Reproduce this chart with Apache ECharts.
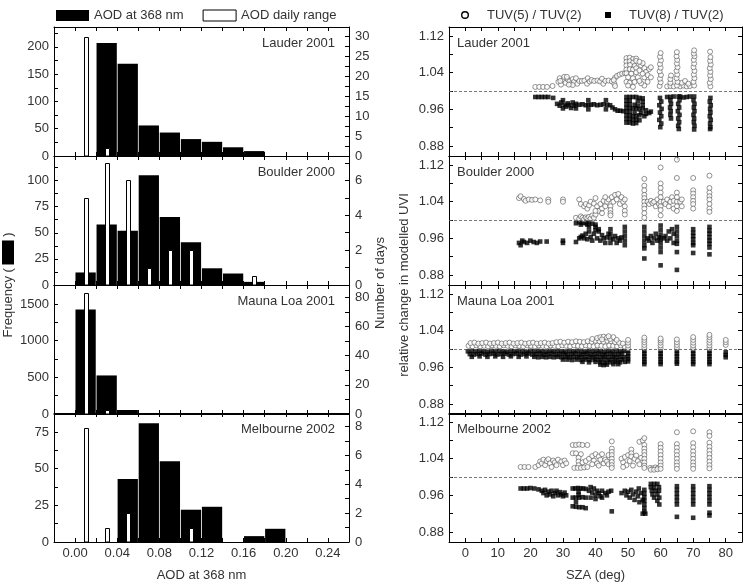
<!DOCTYPE html>
<html><head><meta charset="utf-8">
<script src="https://cdn.jsdelivr.net/npm/echarts@6/dist/echarts.min.js"></script>
<style>html,body{margin:0;padding:0;background:#fff}#c{width:752px;height:583px}</style>
</head><body><div id="c"></div>
<script>
// ---------------- DATA ----------------
const stations = ['Lauder 2001', 'Boulder 2000', 'Mauna Loa 2001', 'Melbourne 2002'];

// AOD histogram (black bars): bins of 0.02 starting at these values
const aodBinStart = [0.00, 0.02, 0.04, 0.06, 0.08, 0.10, 0.12, 0.14, 0.16, 0.18, 0.20];
const aodBinWidth = 0.02;
const lauderFreq  = [0, 207, 169, 56, 43, 31, 26, 16, 9, 0, 0];
const boulderFreq = [12, 58, 52, 105, 65, 41, 16, 11, 3, 0, 0];
const maunaFreq   = [1427, 526, 55, 0, 0, 0, 0, 0, 0, 0, 0];
const melbFreq    = [0, 0, 43, 81, 55, 22, 24, 0, 4, 9, 0];

// AOD daily range (white bars): number of days at bin centres
const rangeCentres = [0.01, 0.03, 0.05, 0.07, 0.09, 0.11, 0.13, 0.15, 0.17];
const lauderDays  = [30, 2, 0, 0, 0, 0, 0, 0, 0];
const boulderDays = [5, 7, 6, 1, 2, 2, 0, 0, 0.5];
const maunaDays   = [83, 3, 0, 0, 0, 0, 0, 0, 0];
const melbDays    = [7.9, 1, 2, 0, 0, 1, 0, 0, 0];

// axis extents and tick labels, left column
const aodMin = -0.02, aodMax = 0.26;
const aodLabels = [0.00, 0.04, 0.08, 0.12, 0.16, 0.20, 0.24];
const aodTicks = [0.00, 0.02, 0.04, 0.06, 0.08, 0.10, 0.12, 0.14, 0.16, 0.18, 0.20, 0.22, 0.24];
const freqMax = [236.5, 123.5, 1760, 87.9];
const freqLabels = [[0, 50, 100, 150, 200], [0, 25, 50, 75, 100], [0, 500, 1000, 1500], [0, 25, 50, 75]];
const freqTicks = [[0, 25, 50, 75, 100, 125, 150, 175, 200, 225], [0, 12.5, 25, 37.5, 50, 62.5, 75, 87.5, 100, 112.5],
                   [0, 250, 500, 750, 1000, 1250, 1500, 1750], [0, 12.5, 25, 37.5, 50, 62.5, 75, 87.5]];
const daysMax = [32.4, 7.4, 88.5, 8.94];
const daysLabels = [[0, 5, 10, 15, 20, 25, 30], [0, 2, 4, 6], [0, 20, 40, 60, 80], [0, 2, 4, 6, 8]];
const daysTicks = [[0, 2.5, 5, 7.5, 10, 12.5, 15, 17.5, 20, 22.5, 25, 27.5, 30], [0, 1, 2, 3, 4, 5, 6, 7],
                   [0, 10, 20, 30, 40, 50, 60, 70, 80], [0, 1, 2, 3, 4, 5, 6, 7, 8]];

// axis extents and tick labels, right column
const szaMin = -5, szaMax = 85;
const szaLabels = [0, 10, 20, 30, 40, 50, 60, 70, 80];
const szaTicks = [0, 5, 10, 15, 20, 25, 30, 35, 40, 45, 50, 55, 60, 65, 70, 75, 80];
const uviMin = 0.858, uviMax = 1.14;
const uviLabels = [0.88, 0.96, 1.04, 1.12];
const uviTicks = [0.88, 0.92, 0.96, 1.00, 1.04, 1.08, 1.12];
const uviRef = 1.00;

// TUV ratio scatter: [SZA, ratio]
const lauderTUV5 = [[21.5,1.009],[22.7,1.009],[23.9,1.009],[25.1,1.009],[26.8,1.011],
[28.6,1.02],[29,1.028],[29.4,1.014],[30,1.024],[30.4,1.031],[30.8,1.018],[31.4,1.026],[32,1.021],[32.4,1.015],[33,1.026],[33.4,1.02],[34,1.028],[34.4,1.016],[29.2,1.022],[31.2,1.031],[33,1.013],[35,1.022],[31.8,1.014],
[35.8,1.022],[36.6,1.023],[37.4,1.016],[37.6,1.028],[38.2,1.021],[38.8,1.024],[39.6,1.022],[40.6,1.023],[41.4,1.021],[42,1.027],[42.4,1.016],[43,1.022],[44,1.023],[45,1.021],[45.8,1.016],[46,1.011],[46,1.029],[45.6,1.024],
[46.6,1.033],[47.4,1.036],[48.2,1.038],[49,1.039],
[49.5,1.072],[50.5,1.073],[51.5,1.07],[52.5,1.071],[49.5,1.064],[50.5,1.065],[51.5,1.062],[52.5,1.066],[49.5,1.056],[50.6,1.057],[52,1.055],[49.5,1.047],[50.5,1.048],[51.5,1.047],[52.5,1.05],[49.5,1.039],[51,1.038],[52.5,1.041],[50,1.03],[51.5,1.028],[49.5,1.02],[50.5,1.018],[52,1.02],[50,1.012],[51.5,1.009],[53,1.03],[53.5,1.045],[54,1.056],[54.5,1.061],[55,1.05],[55.5,1.042],[55,1.03],[56,1.035],[56.5,1.048],[57,1.052],[56,1.02],[55,1.012],[54,1.017],[57,1.03],[53.5,1.064],[54.5,1.038],[53.5,1.022],
[59.7,1.011],[60,1.019],[59.8,1.027],[60.1,1.035],[59.7,1.043],[60,1.051],[59.8,1.059],[60.1,1.067],[59.8,1.075],[60,1.083],
[62,1.01],[63,1.011],[64,1.01],[66,1.01],[67,1.012],[68,1.01],[69,1.011],[66.5,1.018],[67.5,1.022],[68.5,1.016],[63,1.018],[63,1.026],[63.2,1.034],
[65,1.012],[65.2,1.02],[64.9,1.028],[65.1,1.036],[64.9,1.044],[65.2,1.052],[65,1.06],[65.1,1.068],[64.9,1.076],[65,1.085],
[70.3,1.012],[70.1,1.02],[70.4,1.028],[70.2,1.036],[70.4,1.044],[70.1,1.052],[70.3,1.06],[70.2,1.068],[70.4,1.076],[70.2,1.082],[70.3,1.089],
[75.3,1.01],[75.1,1.018],[75.4,1.026],[75.2,1.034],[75.3,1.042],[75.1,1.05],[75.4,1.058],[75.2,1.066],[75.3,1.074],[75.2,1.086]];
const lauderTUV8 = [[21.5,0.987],[22.5,0.987],[23.5,0.987],[24.5,0.987],[25.5,0.987],[27,0.985],
[28.2,0.972],[29,0.968],[29.5,0.975],[30,0.962],[30,0.98],[30.5,0.97],[31,0.966],[31.5,0.973],[32,0.969],[32.5,0.963],[33,0.975],[33.5,0.968],[34,0.972],[34,0.962],[35,0.97],[36,0.971],[37,0.969],[37.8,0.98],[37.8,0.96],[37.8,0.97],[38.6,0.97],[39.5,0.971],[40.5,0.969],[41.5,0.97],[42.5,0.971],[43.2,0.98],[43.2,0.96],[43.6,0.97],[44.5,0.969],[45.2,0.964],[46,0.96],[46.8,0.957],[47.6,0.957],[48.5,0.956],
[49.5,0.987],[50.5,0.987],[51.5,0.987],[52.5,0.987],[53.5,0.985],[54.5,0.984],[49.5,0.979],[50.5,0.979],[53,0.978],[54.5,0.977],[49.5,0.971],[50.5,0.971],[52,0.97],[53,0.968],[54.5,0.969],[49.5,0.963],[50.5,0.963],[51.5,0.962],[52.5,0.962],[53.5,0.96],[54.5,0.962],[55.5,0.958],[49.5,0.955],[50.5,0.955],[52,0.953],[54,0.952],[55.5,0.95],[56.5,0.952],[57,0.955],[49.5,0.947],[50.5,0.947],[51.5,0.945],[52.5,0.945],[53.5,0.947],[55,0.945],[49.5,0.939],[50.5,0.939],[51.5,0.937],[52.5,0.937],[53.5,0.936],[49.5,0.931],[50.5,0.931],[51.5,0.929],[52.5,0.93],
[59.8,0.985],[60.2,0.977],[59.6,0.969],[60.3,0.961],[59.8,0.953],[60.2,0.945],[59.6,0.937],[60.2,0.929],[59.9,0.921],
[62,0.987],[63,0.987],[64,0.988],[66,0.988],[67,0.986],[68,0.987],[69,0.988],
[63,0.98],[63.2,0.972],[62.9,0.964],[63.1,0.956],[63,0.948],[63.2,0.94],
[65.5,0.988],[65.8,0.98],[65.4,0.972],[65.7,0.964],[65.3,0.956],[65.8,0.948],[65.4,0.94],[65.7,0.932],[65.4,0.924],[65.6,0.917],
[70.3,0.988],[70.1,0.98],[70.4,0.972],[70.2,0.964],[70.4,0.956],[70.1,0.948],[70.3,0.94],[70.2,0.932],[70.4,0.924],[70.3,0.916],
[75.3,0.985],[75.1,0.977],[75.4,0.969],[75.2,0.961],[75.3,0.953],[75.1,0.945],[75.4,0.937],[75.2,0.929],[75.3,0.921],[75.2,0.917]];

const boulderTUV5 = [[16.5,1.048],[17,1.052],[18,1.046],[18.5,1.042],[19.5,1.045],[20.5,1.044],[21.5,1.045],[23,1.043],[25.5,1.045],[25.5,1.04],[30,1.045],[30,1.04],
[34,1.005],[35,1.003],[35.5,1.008],[36,1.005],[36.5,1.002],[37,1.006],[37.5,1.004],[38,1.007],[38.5,1.003],[39,1.01],[39.5,1.005],[40,1.012],[35,1.045],[35.5,1.035],[36.5,1.03],[37,1.035],[37.5,1.025],[38,1.032],[38.5,1.04],[39.5,1.036],[40,1.048],[40.5,1.03],[41,1.02],[41.5,1.035],[42,1.025],[42.5,1.042],[43,1.03],[43.5,1.04],[44,1.045],[44.6,1.03],[44.6,1.022],[44.6,1.015],[44.6,1.01],[45,1.05],[45.5,1.04],[46,1.055],[46.5,1.045],[47,1.057],[47.5,1.035],[48,1.05],[48.5,1.04],[49,1.02],[49,1.03],[49,1.012],[49,1.045],[42,1.015],[40,1.02],[43,1.05],
[55,1.09],[55,1.075],[55,1.065],[55,1.055],[55,1.048],[55,1.04],[55,1.032],[55,1.025],[55,1.015],[55,1.005],
[56,1.04],[56.5,1.035],[57,1.042],[57.5,1.037],[58,1.04],[58.5,1.03],[59,1.045],[59.5,1.035],
[60,1.115],[60,1.08],[60,1.07],[60,1.06],[60,1.05],[60,1.04],[60,1.03],[60,1.022],[60,1.01],
[61,1.04],[61.5,1.035],[62,1.045],[62.5,1.03],[63,1.04],[63.5,1.05],[64,1.025],[64,1.042],
[65,1.132],[65,1.092],[65,1.06],[65,1.05],[65,1.04],[65,1.03],[65,1.02],
[66,1.04],[66.5,1.045],[66.5,1.03],
[70,1.092],[70,1.065],[70,1.058],[70,1.05],[70,1.042],[70,1.035],[70,1.025],
[75,1.097],[75,1.07],[75,1.06],[75,1.052],[75,1.045],[75,1.035],[75,1.025],[75,1.018]];
const boulderTUV8 = [[16.5,0.95],[17,0.945],[17.5,0.955],[18,0.952],[19,0.95],[20,0.955],[21,0.952],[22,0.95],[23,0.953],[25,0.953],[30,0.955],[30,0.95],[34,0.952],
[34,0.993],[35,0.995],[35.5,0.99],[36,0.994],[37,0.993],[37.5,0.99],[38,0.995],[39,0.992],[40,0.99],[40,0.985],
[35,0.96],[35.5,0.963],[36,0.966],[36.5,0.96],[37,0.97],[37.5,0.958],[38,0.975],[38.5,0.963],[39,0.955],[39.5,0.97],[40,0.978],[40.5,0.96],[41,0.975],[41.5,0.955],[42,0.967],[42.5,0.96],[43,0.95],[43.5,0.962],[44,0.97],[44.6,0.98],[44.6,0.97],[44.6,0.96],[44.6,0.95],[45.5,0.958],[46,0.965],[46.5,0.95],[47,0.96],[47.5,0.955],[48,0.962],[49,0.985],[49,0.975],[49,0.965],[49,0.955],[49,0.945],[38,0.985],[41,0.98],
[55,0.985],[55,0.975],[55,0.965],[55,0.955],[55,0.945],[55,0.938],[55,0.916],
[56,0.96],[56.5,0.955],[57,0.965],[57.5,0.95],[58,0.96],[58.5,0.97],[59,0.955],[59.5,0.962],
[60,0.988],[60,0.978],[60,0.968],[60,0.958],[60,0.95],[60,0.94],[60,0.93],[60,0.901],
[61,0.96],[61.5,0.965],[62,0.955],[62.5,0.975],[63,0.96],[63.5,0.98],[64,0.97],[64,0.95],
[65,0.985],[65,0.975],[65,0.965],[65,0.955],[65,0.948],[65,0.93],[65,0.891],
[70,0.98],[70,0.972],[70,0.965],[70,0.958],[70,0.95],[70,0.945],[70,0.928],
[75,0.985],[75,0.977],[75,0.97],[75,0.962],[75,0.955],[75,0.948],[75,0.94],[75,0.925]];

const maunaTUV5 = [[1,1.007],[2.2,1.006],[3.4,1.008],[4.6,1.006],[5.8,1.007],[7,1.006],[8.2,1.008],[9.4,1.007],[10.6,1.006],[11.8,1.008],[13,1.007],[14.2,1.006],[15.4,1.008],[16.6,1.007],[17.8,1.006],[19,1.008],[20.2,1.007],[21.4,1.006],[22.6,1.008],[23.8,1.007],[25,1.006],[26.2,1.008],[27.4,1.007],[28.6,1.006],[29.8,1.008],[31,1.007],[32.2,1.006],[33.4,1.008],[34.6,1.007],[35.8,1.006],[37,1.008],[38.2,1.007],[39.4,1.006],[40.6,1.008],[41.8,1.007],[43,1.006],[44.2,1.008],[45.4,1.007],[46.6,1.006],[47.8,1.008],[49,1.005],
[1.6,1.013],[2.8,1.014],[4,1.012],[5.2,1.013],[6.4,1.014],[7.6,1.012],[8.8,1.013],[10,1.014],[11.2,1.012],[12.4,1.013],[13.6,1.014],[14.8,1.012],[16,1.013],[17.2,1.014],[18.4,1.012],[19.6,1.013],[20.8,1.014],[22,1.012],[23.2,1.013],[24.4,1.014],[25.6,1.012],[26.8,1.013],[28,1.015],[29.2,1.016],[30.4,1.014],[31.6,1.016],[32.8,1.015],[34,1.017],[35.2,1.016],[36.4,1.015],[37.6,1.017],[38.8,1.016],[40,1.018],[41.2,1.017],[42.4,1.016],[43.6,1.018],[44.8,1.017],[46,1.015],[47.2,1.014],[48.4,1.012],
[39,1.022],[40.5,1.024],[41.5,1.026],[42.5,1.027],[43.5,1.025],[44.5,1.022],[45.5,1.026],[46.5,1.02],[42,1.021],[44,1.028],
[50,1.002],[50,1.008],[50,1.014],[50,1.02],
[55,1.003],[55,1.009],[55,1.015],[55,1.02],[55,1.025],
[60,1.002],[60,1.008],[60,1.014],[60,1.019],[60,1.023],
[65,1.003],[65,1.009],[65,1.015],[65,1.021],
[70,1.002],[70,1.008],[70,1.014],[70,1.02],[70,1.026],
[75,1.002],[75,1.008],[75,1.014],[75,1.02],[75,1.026],[75,1.031],
[80,1.009],[80,1.015],[80,1.02]];
const maunaTUV8 = [[0.8,0.995],[2,0.996],[3.2,0.995],[4.4,0.996],[5.6,0.995],[6.8,0.994],[8,0.996],[9.2,0.995],[10.4,0.996],[11.6,0.995],[12.8,0.994],[14,0.996],[15.2,0.995],[16.4,0.996],[17.6,0.995],[18.8,0.994],[20,0.996],[21.2,0.995],[22.4,0.996],[23.6,0.995],[24.8,0.994],[26,0.996],[27.2,0.995],[28.4,0.996],[29.6,0.995],[30.8,0.994],[32,0.996],[33.2,0.995],[34.4,0.996],[35.6,0.995],[36.8,0.994],[38,0.996],[39.2,0.995],[40.4,0.996],[41.6,0.995],[42.8,0.994],[44,0.996],[45.2,0.995],[46.4,0.996],[47.6,0.995],[48.8,0.996],
[1.4,0.989],[2.6,0.988],[3.8,0.989],[5,0.99],[6.2,0.988],[7.4,0.989],[8.6,0.99],[9.8,0.988],[11,0.989],[12.2,0.99],[13.4,0.988],[14.6,0.989],[15.8,0.99],[17,0.988],[18.2,0.989],[19.4,0.99],[20.6,0.988],[21.8,0.989],[23,0.99],[24.2,0.988],[25.4,0.989],[26.6,0.99],[27.8,0.988],[29,0.989],[30.2,0.99],[31.4,0.988],[32.6,0.989],[33.8,0.99],[35,0.988],[36.2,0.989],[37.4,0.99],[38.6,0.988],[39.8,0.989],[41,0.99],[42.2,0.988],[43.4,0.989],[44.6,0.99],[45.8,0.988],[47,0.989],[48.2,0.99],
[2,0.983],[4.4,0.984],[6.8,0.983],[9.2,0.984],[11.6,0.983],[14,0.984],[16.4,0.983],[18.8,0.984],[21.2,0.983],[22.4,0.982],[23.6,0.983],[24.8,0.982],[26,0.983],[27.2,0.982],[28.4,0.983],[29.6,0.982],[30.8,0.983],[32,0.982],[33.2,0.983],[34.4,0.982],[35.6,0.983],[36.8,0.982],[38,0.983],[39.2,0.982],[40.4,0.983],[41.6,0.982],[42.8,0.983],[44,0.982],[45.2,0.983],[46.4,0.982],[47.6,0.983],[48.8,0.982],
[30,0.977],[31.4,0.977],[32.8,0.976],[34.2,0.977],[35.6,0.976],[37,0.977],[38.4,0.976],[39.8,0.977],[41.2,0.976],[42.6,0.977],[44,0.976],[45.4,0.977],[46.8,0.976],[48.2,0.977],
[36,0.972],[38,0.971],[40,0.972],[41.5,0.971],[43,0.97],[44.5,0.971],[46,0.972],[47.5,0.971],[49,0.972],
[41.5,0.966],[42.5,0.965],[43.5,0.966],[45.5,0.967],[47,0.967],
[50,0.996],[50,0.99],[50,0.984],[50,0.978],[50,0.973],
[55,0.996],[55,0.99],[55,0.984],[55,0.978],[55,0.972],[55,0.967],
[60,0.996],[60,0.99],[60,0.984],[60,0.978],[60,0.972],[60,0.967],
[65,0.996],[65,0.99],[65,0.984],[65,0.978],[65,0.972],[65,0.968],
[70,0.996],[70,0.99],[70,0.984],[70,0.978],[70,0.972],[70,0.967],
[75,0.996],[75,0.99],[75,0.984],[75,0.978],[75,0.972],[75,0.967],
[80,0.993],[80,0.987],[80,0.982]];

const melbTUV5 = [[17,1.022],[18.2,1.022],[19.4,1.022],[21.5,1.022],
[22.5,1.026],[23,1.034],[23.5,1.03],[24,1.038],[24.5,1.026],[25,1.035],[25.5,1.039],[26,1.03],[26.5,1.022],[27,1.036],[27.5,1.032],[28,1.026],[28.5,1.038],[29.5,1.034],[30,1.026],[30.5,1.036],[31,1.03],
[33,1.07],[34,1.07],[35,1.071],[36,1.07],[37.5,1.07],[33,1.052],[34,1.052],[35.5,1.05],[34.8,1.042],[34.8,1.034],[34.8,1.026],[33.5,1.02],[34.5,1.02],[35.5,1.02],[36.5,1.021],[37.5,1.022],[36,1.032],[37,1.035],
[38,1.04],[39,1.046],[39.5,1.036],[40,1.05],[40.5,1.03],[41,1.045],[41.5,1.038],[42,1.05],[42.5,1.03],[43,1.038],[43.5,1.034],[44,1.048],[44,1.028],[39,1.028],[41,1.025],
[45,1.078],[45,1.062],[45,1.055],[45,1.048],[45,1.04],[45,1.033],[45,1.026],[45,1.02],
[48,1.04],[48.5,1.032],[49,1.044],[49.5,1.026],[50,1.048],[50.5,1.035],[51,1.06],[51,1.052],[51,1.045],[51.5,1.025],[52,1.04],[52.5,1.047],[53,1.035],[53.5,1.028],[54,1.042],[48.5,1.022],[53.5,1.077],[54.5,1.08],[55,1.085],
[55,1.07],[55,1.062],[55,1.055],[55,1.048],[55,1.04],[55,1.032],[55,1.025],[55,1.02],
[56.8,1.02],[57.6,1.019],[58.4,1.021],[59.2,1.02],[57,1.016],[58,1.016],[59,1.017],
[60,1.072],[60,1.064],[60,1.056],[60,1.048],[60,1.04],[60,1.032],[60,1.025],[60,1.018],
[65,1.098],[65,1.072],[65,1.064],[65,1.056],[65,1.048],[65,1.04],[65,1.032],[65,1.025],[65,1.018],
[70,1.1],[70,1.074],[70,1.065],[70,1.056],[70,1.048],[70,1.04],[70,1.032],[70,1.025],[70,1.018],
[75,1.098],[75,1.09],[75,1.075],[75,1.066],[75,1.058],[75,1.05],[75,1.042],[75,1.034],[75,1.026],[75,1.019]];
const melbTUV8 = [[17,0.975],[18,0.975],[19,0.975],[20,0.976],[21.2,0.975],[22.5,0.973],
[23.5,0.97],[24,0.965],[24.5,0.972],[25,0.96],[25.5,0.968],[26,0.962],[26.5,0.97],[27,0.958],[27.5,0.965],[28,0.97],[28.5,0.96],[29,0.967],[29.5,0.962],[30,0.958],[30.5,0.966],[31,0.96],
[33,0.975],[33.8,0.975],[34.6,0.976],[35.4,0.975],[36.2,0.975],[37,0.974],[34.8,0.968],[34.8,0.961],[33,0.955],[34,0.955],[35,0.955],[36,0.956],[37,0.955],[33,0.936],[34,0.935],[35,0.934],[36,0.934],[37,0.932],[34,0.945],
[38,0.97],[38.5,0.978],[39,0.966],[39.5,0.975],[40,0.96],[40.5,0.97],[41,0.965],[41.5,0.958],[42,0.97],[43,0.965],[43.5,0.96],[44,0.968],[44.8,0.97],[38.5,0.955],[40,0.952],[42,0.955],[45,0.925],
[48,0.965],[49,0.97],[49.5,0.96],[50,0.968],[50.5,0.955],[51,0.972],[51.5,0.962],[52,0.95],[52.5,0.968],[53,0.958],[53.5,0.945],[54,0.965],[54.5,0.95],[53.3,0.975],
[55,0.972],[55,0.964],[55,0.956],[55,0.948],[55,0.94],[55,0.932],[55,0.924],[55.3,0.92],[54.5,0.92],
[57,0.985],[58,0.985],[59,0.985],[57,0.978],[58,0.977],[59.5,0.978],[57.3,0.97],[58.5,0.97],[59.5,0.97],[57.5,0.962],[59,0.962],[58,0.955],[59.6,0.955],[59,0.948],[59.6,0.94],
[65,0.98],[65,0.972],[65,0.964],[65,0.956],[65,0.948],[65,0.94],[65,0.913],
[70,0.98],[70,0.972],[70,0.964],[70,0.956],[70,0.948],[70,0.94],[70,0.911],
[75,0.98],[75,0.972],[75,0.964],[75,0.956],[75,0.948],[75,0.94],[75,0.922],[75,0.916]];

const freqSets = [lauderFreq, boulderFreq, maunaFreq, melbFreq];
const daySets = [lauderDays, boulderDays, maunaDays, melbDays];
const tuv5Sets = [lauderTUV5, boulderTUV5, maunaTUV5, melbTUV5];
const tuv8Sets = [lauderTUV8, boulderTUV8, maunaTUV8, melbTUV8];

// ---------------- CHART ----------------
const FONT = "'Liberation Sans', Arial, sans-serif";
const TXT = '#333';
const panelTops = [27, 156, 285, 413];
const panelH = 129;

const grid = [], xAxis = [], yAxis = [], series = [], graphic = [];

function axLine() { return { show: true, onZero: false, lineStyle: { color: '#000', width: 1 } }; }
function axTick(vals) { return { show: true, inside: true, length: 4, customValues: vals, lineStyle: { color: '#000', width: 1 } }; }
function axLabel(show, vals, fmt) {
  return { show, customValues: vals, formatter: fmt, fontSize: 13, color: TXT, fontFamily: FONT, margin: 5 };
}
const fmt2 = v => Number(v).toFixed(2);
const fmt0 = v => String(v);

for (let i = 0; i < 4; i++) {
  // left column
  const gL = grid.length;
  grid.push({ left: 54, top: panelTops[i], width: 295, height: panelH, containLabel: false });
  const xb = xAxis.length;
  xAxis.push({ gridIndex: gL, type: 'value', position: 'bottom', min: aodMin, max: aodMax,
    axisLine: axLine(), axisTick: axTick(aodTicks), axisLabel: axLabel(i === 3, aodLabels, fmt2), splitLine: { show: false },
    name: i === 3 ? 'AOD at 368 nm' : '', nameLocation: 'middle', nameGap: 27,
    nameTextStyle: { fontSize: 13, color: TXT, fontFamily: FONT } });
  const xt = xAxis.length;
  xAxis.push({ gridIndex: gL, type: 'value', position: 'top', min: aodMin, max: aodMax,
    axisLine: axLine(), axisTick: axTick(aodTicks), axisLabel: { show: false }, splitLine: { show: false } });
  const yl = yAxis.length;
  yAxis.push({ gridIndex: gL, type: 'value', position: 'left', min: 0, max: freqMax[i],
    axisLine: axLine(), axisTick: axTick(freqTicks[i]), axisLabel: axLabel(true, freqLabels[i], fmt0), splitLine: { show: false } });
  const yr = yAxis.length;
  yAxis.push({ gridIndex: gL, type: 'value', position: 'right', min: 0, max: daysMax[i],
    axisLine: axLine(), axisTick: axTick(daysTicks[i]), axisLabel: Object.assign(axLabel(true, daysLabels[i], fmt0), { margin: 6 }), splitLine: { show: false } });

  const barData = [];
  freqSets[i].forEach((v, k) => { if (v > 0) barData.push([aodBinStart[k], aodBinStart[k] + aodBinWidth, v]); });
  series.push({ type: 'custom', name: 'AOD at 368 nm', xAxisIndex: xb, yAxisIndex: yl, data: barData,
    encode: { x: [0, 1], y: 2 }, itemStyle: { color: '#000' }, z: 2, clip: true,
    renderItem: function (params, api) {
      const a = api.coord([api.value(0), api.value(2)]);
      const b = api.coord([api.value(1), 0]);
      return { type: 'rect', shape: { x: a[0] + 0.4, y: a[1], width: b[0] - a[0] - 0.8, height: b[1] - a[1] }, style: { fill: '#000' } };
    } });
  const dayData = [];
  daySets[i].forEach((v, k) => { if (v > 0) dayData.push([rangeCentres[k], v]); });
  series.push({ type: 'custom', name: 'AOD daily range', xAxisIndex: xt, yAxisIndex: yr, data: dayData,
    encode: { x: 0, y: 1 }, itemStyle: { color: '#fff', borderColor: '#000', borderWidth: 1 }, z: 3, clip: true,
    renderItem: function (params, api) {
      const p = api.coord([api.value(0), api.value(1)]);
      const b = api.coord([api.value(0), 0]);
      const x = Math.round(p[0] - 2) + 0.5;
      return { type: 'rect', shape: { x: x, y: Math.round(p[1]) + 0.5, width: 4, height: b[1] - Math.round(p[1]) - 0.5 },
        style: { fill: '#fff', stroke: '#000', lineWidth: 1 } };
    } });

  graphic.push({ type: 'text', x: 335, y: panelTops[i] + 16, z: 10,
    style: { text: stations[i], textAlign: 'right', textVerticalAlign: 'middle', font: '13px ' + FONT, fill: TXT } });

  // right column
  const gR = grid.length;
  grid.push({ left: 449, top: panelTops[i], width: 293, height: panelH, containLabel: false });
  const sxb = xAxis.length;
  xAxis.push({ gridIndex: gR, type: 'value', position: 'bottom', min: szaMin, max: szaMax,
    axisLine: axLine(), axisTick: axTick(szaTicks), axisLabel: axLabel(i === 3, szaLabels, fmt0), splitLine: { show: false },
    name: i === 3 ? 'SZA (deg)' : '', nameLocation: 'middle', nameGap: 27,
    nameTextStyle: { fontSize: 13, color: TXT, fontFamily: FONT } });
  xAxis.push({ gridIndex: gR, type: 'value', position: 'top', min: szaMin, max: szaMax,
    axisLine: axLine(), axisTick: axTick(szaTicks), axisLabel: { show: false }, splitLine: { show: false } });
  const syl = yAxis.length;
  yAxis.push({ gridIndex: gR, type: 'value', position: 'left', min: uviMin, max: uviMax,
    axisLine: axLine(), axisTick: axTick(uviTicks), axisLabel: axLabel(true, uviLabels, fmt2), splitLine: { show: false } });
  yAxis.push({ gridIndex: gR, type: 'value', position: 'right', min: uviMin, max: uviMax,
    axisLine: axLine(), axisTick: axTick(uviTicks), axisLabel: { show: false }, splitLine: { show: false } });

  series.push({ type: 'scatter', name: 'TUV(8) / TUV(2)', xAxisIndex: sxb, yAxisIndex: syl, data: tuv8Sets[i],
    symbol: 'rect', symbolSize: 4.6, itemStyle: { color: '#000' }, z: 2, clip: true,
    markLine: { silent: true, symbol: ['none', 'none'], label: { show: false },
      lineStyle: { type: [3, 2], color: '#555', width: 0.8 }, data: [{ yAxis: uviRef }] } });
  series.push({ type: 'scatter', name: 'TUV(5) / TUV(2)', xAxisIndex: sxb, yAxisIndex: syl, data: tuv5Sets[i],
    symbol: 'circle', symbolSize: 5, itemStyle: { color: '#fff', borderColor: '#555', borderWidth: 0.8 }, z: 3, clip: true });

  graphic.push({ type: 'text', x: 457, y: panelTops[i] + 16, z: 10,
    style: { text: stations[i], textAlign: 'left', textVerticalAlign: 'middle', font: '13px ' + FONT, fill: TXT } });
}

// axis titles
graphic.push({ type: 'text', x: 8, y: 285, rotation: Math.PI / 2, z: 10,
  style: { text: 'Frequency ( {b|} )', rich: { b: { width: 24, height: 12, backgroundColor: '#000' } },
    textAlign: 'center', textVerticalAlign: 'middle', font: '13px ' + FONT, fill: TXT } });
graphic.push({ type: 'text', x: 380, y: 283, rotation: Math.PI / 2, z: 10,
  style: { text: 'Number of days', textAlign: 'center', textVerticalAlign: 'middle', font: '13px ' + FONT, fill: TXT } });
graphic.push({ type: 'text', x: 404, y: 285, rotation: Math.PI / 2, z: 10,
  style: { text: 'relative change in modelled UVI', textAlign: 'center', textVerticalAlign: 'middle', font: '13px ' + FONT, fill: TXT } });

// legend of the right column (symbol keys)
graphic.push({ type: 'circle', shape: { cx: 465, cy: 15, r: 3.3 }, z: 10, style: { fill: '#fff', stroke: '#000', lineWidth: 1.4 } });
graphic.push({ type: 'text', x: 487, y: 15, z: 10,
  style: { text: 'TUV(5) / TUV(2)', textAlign: 'left', textVerticalAlign: 'middle', font: '13px ' + FONT, fill: TXT } });
graphic.push({ type: 'rect', shape: { x: 605, y: 12, width: 6, height: 6 }, z: 10, style: { fill: '#000' } });
graphic.push({ type: 'text', x: 629, y: 15, z: 10,
  style: { text: 'TUV(8) / TUV(2)', textAlign: 'left', textVerticalAlign: 'middle', font: '13px ' + FONT, fill: TXT } });

const option = {
  animation: false,
  backgroundColor: '#fff',
  textStyle: { fontFamily: FONT },
  grid, xAxis, yAxis, series, graphic,
  legend: [
    { left: 56, top: 9, padding: 0, itemWidth: 33, itemHeight: 11, itemGap: 19, selectedMode: false,
      textStyle: { fontSize: 13, color: TXT, fontFamily: FONT },
      data: [ { name: 'AOD at 368 nm', icon: 'rect', itemStyle: { color: '#000', borderWidth: 0 } },
              { name: 'AOD daily range', icon: 'rect', itemStyle: { color: '#fff', borderColor: '#000', borderWidth: 1 } } ] }
  ]
};

const chart = echarts.init(document.getElementById('c'), null, { renderer: 'canvas', width: 752, height: 583 });
chart.setOption(option);
</script></body></html>
